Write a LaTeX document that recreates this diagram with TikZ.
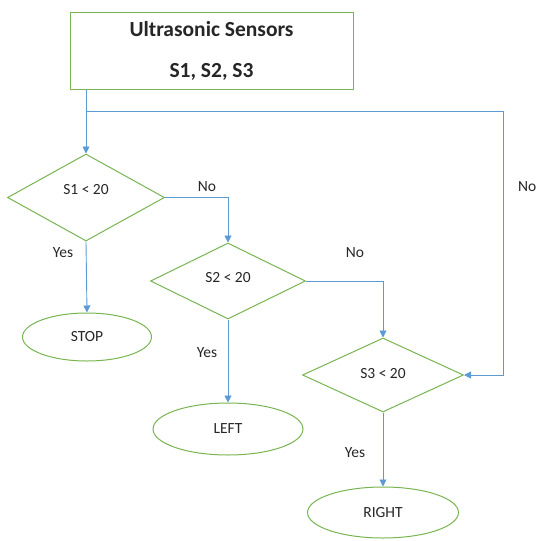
\documentclass[tikz,border=0pt]{standalone}
\usepackage{fontspec}
\setmainfont{Carlito}
\usetikzlibrary{shapes.geometric,arrows.meta}
\definecolor{boxgreen}{RGB}{120,180,80}
\definecolor{lineblue}{RGB}{91,155,213}
\definecolor{txt}{RGB}{38,38,38}
\begin{document}
\begin{tikzpicture}[x=1pt,y=-1pt,
  every node/.style={text=txt,font=\fontsize{15.5}{18}\selectfont},
  decision/.style={diamond,draw=boxgreen,line width=1pt,inner sep=0pt},
  terminal/.style={ellipse,draw=boxgreen,line width=1pt,inner sep=0pt},
  flow/.style={draw=lineblue,line width=0.9pt,-{Triangle[width=7pt,length=7pt]}},
  lbl/.style={inner sep=0pt}]
\useasboundingbox (0,0) rectangle (536,541);
\node[draw=boxgreen,line width=1pt,minimum width=283pt,minimum height=77pt,inner sep=0pt,align=center,
  font=\fontsize{21.5}{41}\selectfont\bfseries] (top) at (211.5,50.5) {Ultrasonic Sensors\\S1, S2, S3};
\node[decision,minimum width=157pt,minimum height=87pt,text depth=17pt] (d1) at (86,197.5) {S1 < 20};
\node[decision,minimum width=155pt,minimum height=76pt,text depth=8pt] (d2) at (228,281) {S2 < 20};
\node[decision,minimum width=161pt,minimum height=74pt,text depth=4pt] (d3) at (383,375) {S3 < 20};
\node[terminal,minimum width=129pt,minimum height=48pt] (stop) at (87,337) {STOP};
\node[terminal,minimum width=150pt,minimum height=52pt] (left) at (228,429) {LEFT};
\node[terminal,minimum width=151pt,minimum height=51pt] (right) at (383,512.5) {RIGHT};
\coordinate (j) at (86,111);
\coordinate (rt) at (503,111);
\draw[flow] (top.south -| d1.north) -- (d1.north);
\draw[flow] (j) -- (rt) |- (d3.east);
\draw[flow] (d1.east) -| (d2.north);
\draw[flow] (d2.east) -| (d3.north);
\draw[flow] (d1.south) -- (stop.north);
\draw[flow] (d2.south) -- (left.north);
\draw[flow] (d3.south) -- (right.north);
\node[lbl] (no1) at (207,187) {No};
\node[lbl] (no2) at (355,253) {No};
\node[lbl,anchor=west] (no3) at (518,187) {No};
\node[lbl] (yes1) at (63,253) {Yes};
\node[lbl] (yes2) at (207,353) {Yes};
\node[lbl] (yes3) at (355,453) {Yes};
\end{tikzpicture}
\end{document}
